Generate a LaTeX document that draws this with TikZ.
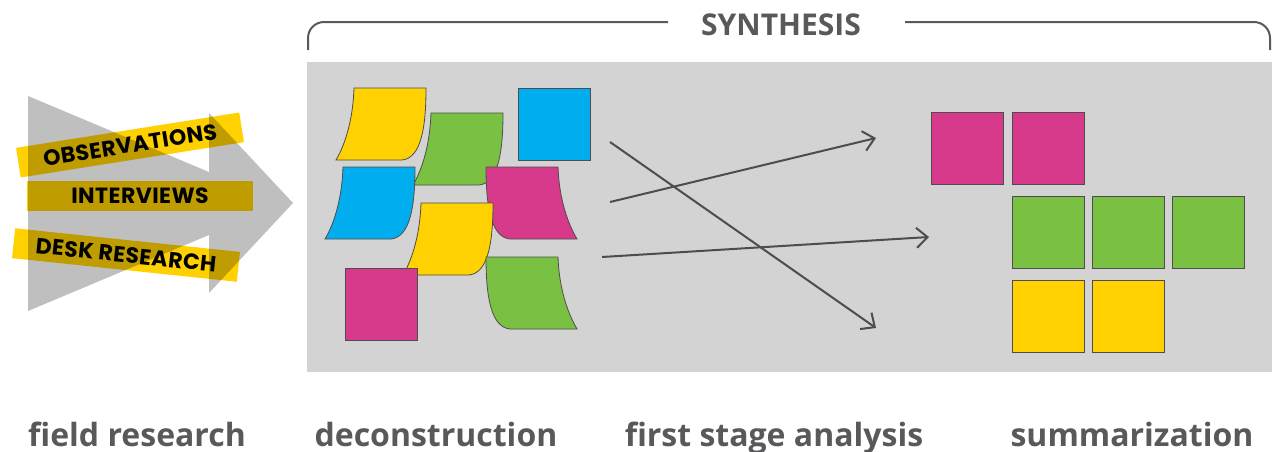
\documentclass[tikz,border=0pt]{standalone}
\usepackage{fontspec}
\usetikzlibrary{arrows.meta,positioning}
\newfontfamily\labelfont{Open Sans}
\newfontfamily\bandfont[LetterSpace=2]{Poppins}
\definecolor{panel}{HTML}{D3D3D3}
\definecolor{ink}{HTML}{58595B}
\definecolor{edge}{HTML}{4D4D4D}
\definecolor{noteyellow}{HTML}{FFD100}
\definecolor{notegreen}{HTML}{7AC143}
\definecolor{noteblue}{HTML}{00AEEF}
\definecolor{notepink}{HTML}{D7398B}
\definecolor{tape}{HTML}{FFD100}

% sticky notes that curl at one lower corner
\newcommand{\curlleft}[2]{%
  \filldraw[note,fill=#1,shift={#2}] (0,0) -- (72,0) .. controls (72,40) and (67,70) .. (48,72)
    -- (-18,72) .. controls (-8,55) and (-1,30) .. (0,0) -- cycle;}
\newcommand{\curlright}[2]{%
  \filldraw[note,fill=#1,shift={#2}] (0,0) -- (72,0) .. controls (73,30) and (81,55) .. (91,72)
    -- (24,72) .. controls (5,70) and (0,40) .. (0,0) -- cycle;}

\begin{document}
\begin{tikzpicture}[x=1pt,y=-1pt,>={Straight Barb[length=11pt,width=20pt]},
  note/.style={draw=edge,line width=0.8pt},
  square/.style={draw=edge,line width=0.8pt,minimum size=72pt,inner sep=0pt,anchor=north west},
  flow/.style={->,draw=edge,line width=2pt},
  band/.style={fill=tape,minimum width=226pt,minimum height=30pt,inner sep=0pt,
    font=\bandfont\bfseries\fontsize{22}{22}\selectfont},
  stage/.style={font=\labelfont\bfseries\fontsize{32}{32}\selectfont,text=ink,anchor=base}]
  \useasboundingbox (0,0) rectangle (1272,451);

  % field research
  \node[band,rotate=9] (obs) at (130,145) {OBSERVATIONS};
  \node[band] (int) at (140,196) {INTERVIEWS};
  \node[band,rotate=-6] (desk) at (126,255) {DESK RESEARCH};
  \fill[black,opacity=0.25] (28,96) -- (209,172) -- (209,113) -- (293,203) -- (209,293)
    -- (209,235) -- (28,311) -- cycle;

  % synthesis
  \fill[panel] (307,62) rectangle (1272,372);
  \node[font=\labelfont\bfseries\fontsize{30}{30}\selectfont,text=ink] (synth) at (781,25) {SYNTHESIS};
  \draw[ink,line width=2pt,rounded corners=16pt] (308,50) -- (308,22) -- (668,22);
  \draw[ink,line width=2pt,rounded corners=16pt] (905,22) -- (1270,22) -- (1270,50);

  % deconstruction
  \curlleft{noteyellow}{(354,88)}
  \curlleft{notegreen}{(431,113)}
  \node[square,fill=noteblue] (blue) at (518,88) {};
  \curlleft{noteblue}{(343,167)}
  \curlright{notepink}{(486,167)}
  \curlleft{noteyellow}{(421,203)}
  \node[square,fill=notepink] (pink) at (345,268) {};
  \curlright{notegreen}{(486,257)}

  % first stage analysis
  \coordinate (a1) at (610,202); \coordinate (b1) at (876,138);
  \coordinate (a2) at (610,142); \coordinate (b2) at (876,328);
  \coordinate (a3) at (602,257); \coordinate (b3) at (929,237);
  \draw[flow] (a1) -- (b1);
  \draw[flow] (a2) -- (b2);
  \draw[flow] (a3) -- (b3);

  % summarization
  \foreach \x/\y/\c [count=\i] in {931/112/notepink,1012/112/notepink,
      1012/196/notegreen,1092/196/notegreen,1172/196/notegreen,
      1012/280/noteyellow,1092/280/noteyellow}
    \node[square,fill=\c] (sum\i) at (\x,\y) {};

  \node[stage] (field) at (137,446) {field research};
  \node[stage] (decon) at (436,446) {deconstruction};
  \node[stage] (first) at (774,446) {first stage analysis};
  \node[stage] (summ) at (1132,446) {summarization};
\end{tikzpicture}
\end{document}
